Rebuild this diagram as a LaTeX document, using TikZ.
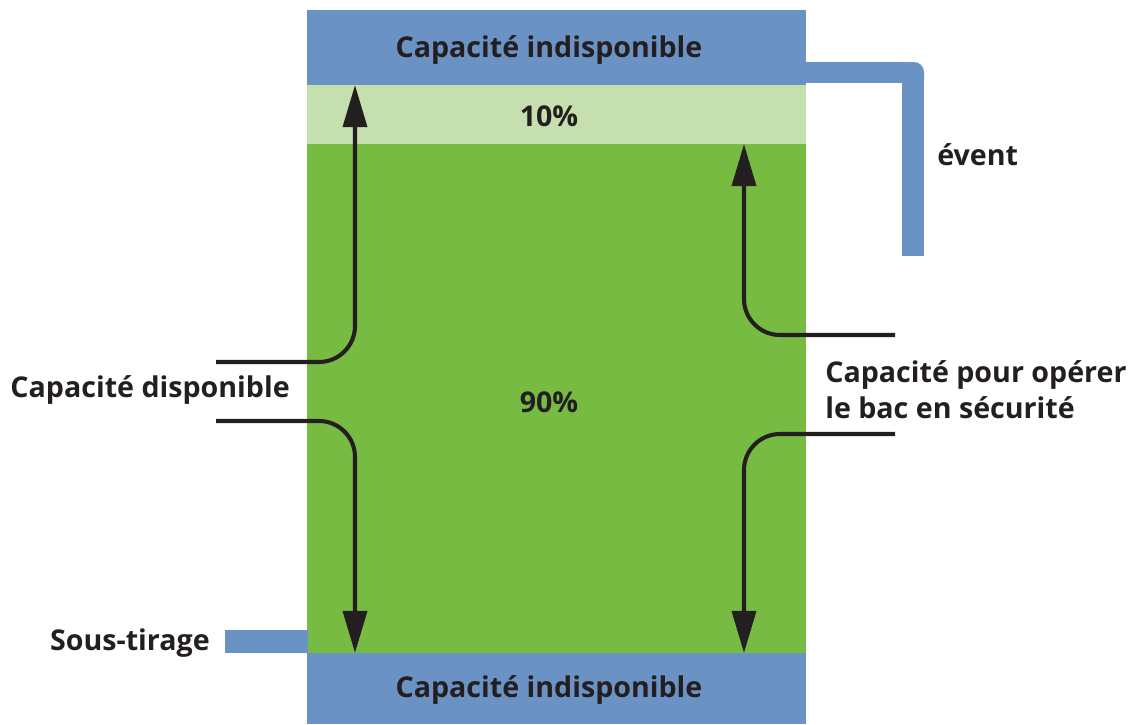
\documentclass[tikz,border=0pt]{standalone}
\usepackage{fontspec}
\setmainfont{Open Sans}
\usetikzlibrary{arrows.meta}

\definecolor{tankblue}{HTML}{6B92C4}
\definecolor{lightgreen}{HTML}{C5DFAE}
\definecolor{liquidgreen}{HTML}{78BB43}
\definecolor{ink}{HTML}{231F20}

\tikzset{
  label/.style={font=\fontsize{20.35}{25.5}\selectfont\bfseries, text=ink, inner sep=0pt},
  level/.style={line width=2.9pt, draw=ink, rounded corners=0.9cm,
    -{Triangle[width=17pt,length=30pt]}},
}

\begin{document}
\begin{tikzpicture}[x=0.025cm, y=-0.025cm]
  \useasboundingbox (0,0) rectangle (1132,724);

  % tank
  \fill[tankblue] (307,10) rectangle (806,85);
  \fill[lightgreen] (307,85) rectangle (806,144);
  \fill[liquidgreen] (307,144) rectangle (806,653);
  \fill[tankblue] (307,653) rectangle (806,724);

  % vent and draw-off
  \fill[tankblue] (806,62) rectangle (910,83);
  \fill[tankblue] (902,75) rectangle (924,256);
  \fill[tankblue, rounded corners=0.25cm] (902,62) rectangle (924,90);
  \fill[tankblue] (225,630) rectangle (308,653);

  \node[label] (top) at (549,50) {Capacité indisponible};
  \node[label] (bottom) at (549,690) {Capacité indisponible};
  \node[label] (ten) at (549,116) {10\%};
  \node[label] (ninety) at (549,402) {90\%};
  \node[label, anchor=east] (avail) at (290,390) {Capacité disponible};
  \node[label, anchor=west, align=left] (safe) at (825,390) {Capacité pour opérer\\le bac en sécurité};
  \node[label, anchor=west] (vent) at (937,155) {évent};
  \node[label, anchor=east] (drawoff) at (210,643) {Sous-tirage};

  \coordinate (avail up) at (216,362);
  \coordinate (avail down) at (216,421);
  \coordinate (safe up) at (895,335);
  \coordinate (safe down) at (895,434);

  \draw[level] (avail up) -- (355,362) -- (355,85);
  \draw[level] (avail down) -- (355,421) -- (355,653);
  \draw[level] (safe up) -- (744,335) -- (744,144);
  \draw[level] (safe down) -- (744,434) -- (744,653);
\end{tikzpicture}
\end{document}
